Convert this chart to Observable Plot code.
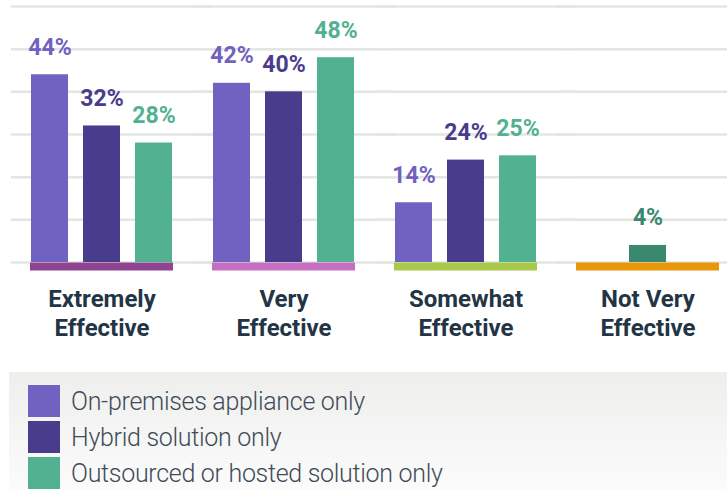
<!DOCTYPE html>
<html>
<head>
<meta charset="utf-8">
<script src="https://cdn.jsdelivr.net/npm/d3@7"></script>
<script src="https://cdn.jsdelivr.net/npm/@observablehq/plot@0.6"></script>
<style>
  html, body { margin: 0; padding: 0; background: #ffffff; }
  body { width: 727px; height: 489px; overflow: hidden; font-family: Roboto, "Noto Sans", sans-serif; }
  #legend {
    margin-left: 9px; width: 718px; height: 117px; box-sizing: border-box;
    padding: 13px 0 0 19px;
    background: linear-gradient(#eeefed, #fbfbfb);
  }
  .item { display: flex; align-items: center; height: 32px; margin-bottom: 4px; }
  .sw { width: 32px; height: 32px; margin-right: 11px; flex: none; }
  .lab { font-family: Roboto, sans-serif; font-weight: 300; font-size: 25px; color: #3f4b57; letter-spacing: -0.3px; }
</style>
</head>
<body>
<div id="chart"></div>
<div id="legend"></div>
<script>
const categories = ["Extremely Effective", "Very Effective", "Somewhat Effective", "Not Very Effective"];
const categoryLabels = ["Extremely\nEffective", "Very\nEffective", "Somewhat\nEffective", "Not Very\nEffective"];
const categoryColors = ["#8f4491", "#c46fc1", "#a9c84c", "#e8970b"];
const series = ["On-premises appliance only", "Hybrid solution only", "Outsourced or hosted solution only"];
const seriesColors = ["#7161c1", "#4a3c8c", "#52b191"];
const singleBarColor = "#3b8870";
const onPremises = [44, 42, 14, null];
const hybrid = [32, 40, 24, null];
const outsourced = [28, 48, 25, 4];
const gridTicks = [0, 10, 20, 30, 40, 50, 60];

const values = [onPremises, hybrid, outsourced];
const rows = [];
categories.forEach((c, ci) => {
  const present = series.map((s, si) => values[si][ci]).filter(v => v != null);
  series.forEach((s, si) => {
    const v = values[si][ci];
    if (v == null) return;
    const single = present.length === 1;
    rows.push({
      category: c,
      series: s,
      slot: single ? series[1] : s,
      value: v,
      color: single ? singleBarColor : seriesColors[si]
    });
  });
});
const cats = categories.map((c, i) => ({category: c, label: categoryLabels[i], color: categoryColors[i]}));

const chart = Plot.plot({
  width: 727,
  height: 372,
  marginLeft: 29,
  marginRight: 6,
  marginTop: 6,
  marginBottom: 110,
  style: {fontFamily: "Roboto, sans-serif", background: "transparent"},
  fx: {domain: categories, axis: null, paddingInner: 0.2117, paddingOuter: 0, label: null},
  x: {domain: series, axis: null, paddingInner: 0.283, paddingOuter: 0},
  y: {domain: [0, 60], axis: null},
  marks: [
    Plot.ruleY(gridTicks, {stroke: "#e3e6e1", strokeWidth: 2.5, insetLeft: -19, insetRight: -40}),
    Plot.barY(rows, {fx: "category", x: "slot", y: "value", fill: d => d.color}),
    Plot.text(rows, {fx: "category", x: "slot", y: "value", text: d => d.value + "%", fill: d => d.color,
      lineAnchor: "bottom", dy: -20, fontSize: 23, fontWeight: "bold", letterSpacing: 0.8}),
    Plot.ruleY(cats, {fx: "category", y: () => 0, stroke: d => d.color, strokeWidth: 8, dy: 4}),
    Plot.text(cats, {fx: "category", text: "label", frameAnchor: "bottom", lineAnchor: "top", dy: 24,
      lineHeight: 1.21, fontSize: 24, fontWeight: "bold", fill: "#233545", letterSpacing: 1.2})
  ]
});
document.getElementById("chart").appendChild(chart);

const legend = document.getElementById("legend");
series.forEach((s, i) => {
  const item = document.createElement("div");
  item.className = "item";
  const sw = document.createElement("div");
  sw.className = "sw";
  sw.style.background = seriesColors[i];
  const lab = document.createElement("span");
  lab.className = "lab";
  lab.textContent = s;
  item.appendChild(sw);
  item.appendChild(lab);
  legend.appendChild(item);
});
</script>
</body>
</html>
